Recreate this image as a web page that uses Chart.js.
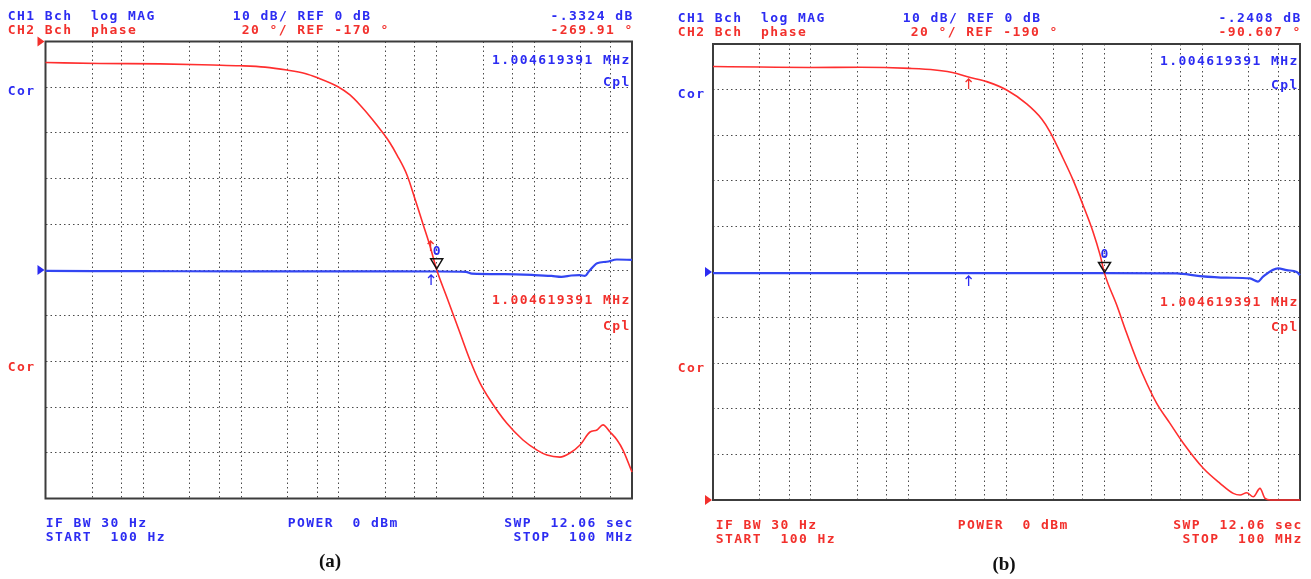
<!DOCTYPE html>
<html><head><meta charset="utf-8">
<script src="https://cdn.jsdelivr.net/npm/chart.js@4.4.1/dist/chart.umd.min.js"></script>
<style>
html,body{margin:0;padding:0;background:#fff;width:1311px;height:579px;overflow:hidden}
canvas{position:absolute;top:0}
#ca{left:0}
#cb{left:655px}
</style></head><body>
<canvas id="ca" width="655" height="579"></canvas>
<canvas id="cb" width="656" height="579"></canvas>
<script>
// ---------- data (frequency in Hz) ----------
const xGridTicks = [300, 600, 1e3, 3e3, 6e3, 1e4, 3e4, 6e4, 1e5, 3e5, 6e5, 1e6, 3e6, 6e6, 1e7, 3e7, 6e7];
const markerFreq = 1004619.391;

// Panel (a)
const freqA_phase = [100, 361, 1484, 5170, 9770, 17600, 29550, 45170, 59900, 98200, 130300, 165000, 218900, 277000, 334500, 394500, 499000, 602600, 727000, 858000, 1004619, 1270000, 1740000, 2200000, 2790000, 3530000, 5220000, 7670000, 10670000, 13500000, 18340000, 23200000, 29400000, 37200000, 43800000, 50500000, 59600000, 70300000, 80900000, 100000000];
const phaseA = [-179.2, -179.6, -179.8, -180.3, -180.6, -181.2, -182.5, -184.0, -185.8, -189.8, -193.4, -197.8, -203.9, -209.5, -214.4, -219.7, -228.4, -238.9, -249.9, -259.5, -269.9, -281.7, -297.6, -309.4, -319.5, -326.9, -337.0, -344.4, -348.8, -351.0, -351.9, -350.1, -346.6, -340.9, -340.0, -337.8, -340.9, -344.4, -348.8, -358.4];
const freqA_mag = [100, 1000, 10000, 100000, 1004619, 2000000, 2300000, 5000000, 10000000, 15000000, 19000000, 24000000, 29000000, 33000000, 36000000, 44000000, 55000000, 70000000, 100000000];
const magA = [-0.2, -0.25, -0.3, -0.3, -0.33, -0.4, -0.8, -0.9, -1.1, -1.3, -1.5, -1.2, -1.1, -1.3, -0.4, 1.5, 1.8, 2.3, 2.2];

// Panel (b)
const freqB_phase = [100, 302, 981, 3180, 10320, 18580, 30970, 39200, 62780, 100500, 160900, 229000, 278400, 378100, 478400, 605300, 765700, 904400, 1004619, 1338000, 1693000, 2143000, 2711000, 3430000, 4690000, 6420000, 10270000, 15220000, 20800000, 24400000, 28540000, 33300000, 39000000, 43900000, 50000000, 100000000];
const phaseB = [0.1, -0.1, -0.3, -0.2, -0.7, -1.4, -2.9, -4.3, -6.5, -10.2, -16.3, -22.9, -28.5, -40.1, -49.6, -60.6, -72.3, -82.5, -90.6, -104.5, -116.9, -128.6, -138.8, -147.6, -156.4, -165.1, -176.1, -182.7, -187.1, -187.8, -186.8, -188.6, -184.9, -189.3, -190, -190];
const freqB_mag = [100, 10000, 1000000, 5490000, 9500000, 17800000, 30800000, 37200000, 41900000, 59600000, 73100000, 92500000, 100000000];
const magB = [-0.24, -0.24, -0.24, -0.3, -0.9, -1.25, -1.4, -2.1, -1.0, 0.8, 0.4, 0.0, -0.7];

// ---------- styling ----------
const BLUE = '#2c2cf2', RED = '#f2302c';
const TRACE_BLUE = '#3346f2', TRACE_RED = '#ff2e2e';
const ADV = 9.25;

function mono(ctx, s, x, y, color, right) {
  ctx.save();
  ctx.font = 'bold 13px "DejaVu Sans Mono"';
  ctx.fillStyle = color; ctx.textAlign = 'center'; ctx.textBaseline = 'alphabetic';
  const x0 = right ? x - s.length * ADV : x;
  for (let i = 0; i < s.length; i++) if (s[i] !== ' ') ctx.fillText(s[i], x0 + i * ADV + ADV / 2, y + 4.8);
  ctx.restore();
}
function arrowUp(ctx, x, y, color) {
  ctx.save(); ctx.strokeStyle = color; ctx.lineWidth = 1.3;
  ctx.beginPath(); ctx.moveTo(x, y + 5); ctx.lineTo(x, y - 5);
  ctx.moveTo(x - 3, y - 2); ctx.lineTo(x, y - 5); ctx.lineTo(x + 3, y - 2); ctx.stroke(); ctx.restore();
}
function refTri(ctx, xr, y, color) {
  ctx.save(); ctx.fillStyle = color; ctx.beginPath();
  ctx.moveTo(xr - 8, y - 5); ctx.lineTo(xr - 8, y + 5); ctx.lineTo(xr - 1, y); ctx.closePath(); ctx.fill(); ctx.restore();
}

function pts(xs, ys) { return xs.map((x, i) => ({ x: x, y: ys[i] })); }

function makePanel(id, cfg) {
  const canvas = document.getElementById(id);
  const W = canvas.width, H = canvas.height;
  const deco = {
    id: 'deco' + id,
    beforeDatasetsDraw(chart) {
      const a = chart.chartArea, ctx = chart.ctx;
      ctx.save(); ctx.strokeStyle = '#3c3c3c'; ctx.lineWidth = 2;
      ctx.strokeRect(a.left, a.top, a.right - a.left, a.bottom - a.top);
      ctx.restore();
    },
    afterDraw(chart) {
      const ctx = chart.ctx, a = chart.chartArea;
      const xs = chart.scales.x, ym = chart.scales.yMag, yp = chart.scales.yPh;
      refTri(ctx, a.left, ym.getPixelForValue(0), BLUE);
      refTri(ctx, a.left, yp.getPixelForValue(cfg.phRef), RED);
      const px = xs.getPixelForValue(markerFreq), py = yp.getPixelForValue(cfg.markerPhase);
      ctx.save(); ctx.strokeStyle = '#111'; ctx.lineWidth = 1.5; ctx.beginPath();
      ctx.moveTo(px, py - 1); ctx.lineTo(px - 6, py - 11); ctx.lineTo(px + 6, py - 11); ctx.closePath(); ctx.stroke(); ctx.restore();
      mono(ctx, '0', px - ADV / 2, py - 20, BLUE, false);
      arrowUp(ctx, xs.getPixelForValue(cfg.redArrow[0]), cfg.redArrow[1], RED);
      arrowUp(ctx, xs.getPixelForValue(cfg.blueArrow[0]), cfg.blueArrow[1], BLUE);
      cfg.texts.forEach(t => mono(ctx, t[0], t[1] - cfg.off, t[2], t[3], t[4]));
      ctx.save(); ctx.font = 'bold 19px "Liberation Serif"'; ctx.fillStyle = '#111';
      ctx.textAlign = 'center'; ctx.textBaseline = 'middle';
      ctx.fillText(cfg.caption[0], cfg.caption[1] - cfg.off, cfg.caption[2]); ctx.restore();
    }
  };
  const gridOpts = { color: '#4a4a4a', lineWidth: 1, drawTicks: false };
  const borderOpts = { display: false, dash: [1.5, 3] };
  return new Chart(canvas, {
    type: 'line',
    data: {
      datasets: [
        { label: 'CH2 phase', data: pts(cfg.fPh, cfg.ph), yAxisID: 'yPh', borderColor: TRACE_RED, borderWidth: 1.6,
          pointRadius: 0, cubicInterpolationMode: 'monotone', clip: 3 },
        { label: 'CH1 log MAG', data: pts(cfg.fMag, cfg.mag), yAxisID: 'yMag', borderColor: TRACE_BLUE, borderWidth: 2.2,
          pointRadius: 0, cubicInterpolationMode: 'monotone', clip: 3 }
      ]
    },
    options: {
      responsive: false, animation: false, events: [],
      layout: { padding: { left: cfg.box[0] - cfg.off, top: cfg.box[1], right: W - (cfg.box[2] - cfg.off), bottom: H - cfg.box[3] } },
      plugins: { legend: { display: false }, tooltip: { enabled: false } },
      scales: {
        x: { type: 'logarithmic', min: 100, max: 1e8,
             afterBuildTicks: s => { s.ticks = xGridTicks.map(v => ({ value: v })); },
             ticks: { display: false }, grid: gridOpts, border: borderOpts },
        yMag: { type: 'linear', position: 'left', min: -50, max: 50,
                ticks: { display: false, stepSize: 10 }, grid: gridOpts, border: borderOpts },
        yPh: { type: 'linear', position: 'right', display: false, min: cfg.phMin, max: cfg.phMax }
      }
    },
    plugins: [deco]
  });
}

makePanel('ca', {
  off: 0, box: [45.5, 41.5, 632, 498.5],
  fPh: freqA_phase, ph: phaseA, fMag: freqA_mag, mag: magA,
  phMin: -370, phMax: -170, phRef: -170, markerPhase: -269.91,
  redArrow: [870000, 246], blueArrow: [880000, 280],
  caption: ['(a)', 330, 562],
  texts: [
    ['CH1 Bch  log MAG', 7, 15, BLUE], ['CH2 Bch  phase', 7, 29, RED],
    ['10 dB/ REF 0 dB', 232, 15, BLUE], ['20 °/ REF -170 °', 241, 29, RED],
    ['-.3324 dB', 633, 15, BLUE, true], ['-269.91 °', 633, 29, RED, true],
    ['Cor', 7, 90, BLUE], ['Cor', 7, 366, RED],
    ['1.004619391 MHz', 630, 59, BLUE, true], ['Cpl', 630, 81, BLUE, true],
    ['1.004619391 MHz', 630, 299, RED, true], ['Cpl', 630, 325, RED, true],
    ['IF BW 30 Hz', 45, 522, BLUE], ['START  100 Hz', 45, 536, BLUE],
    ['POWER  0 dBm', 287, 522, BLUE],
    ['SWP  12.06 sec', 633, 522, BLUE, true], ['STOP  100 MHz', 633, 536, BLUE, true]
  ]
});

makePanel('cb', {
  off: 655, box: [713, 44, 1300, 500],
  fPh: freqB_phase, ph: phaseB, fMag: freqB_mag, mag: magB,
  phMin: -190, phMax: 10, phRef: -190, markerPhase: -90.607,
  redArrow: [41000, 84], blueArrow: [41000, 281],
  caption: ['(b)', 1004, 565],
  texts: [
    ['CH1 Bch  log MAG', 677, 17, BLUE], ['CH2 Bch  phase', 677, 31, RED],
    ['10 dB/ REF 0 dB', 902, 17, BLUE], ['20 °/ REF -190 °', 910, 31, RED],
    ['-.2408 dB', 1301, 17, BLUE, true], ['-90.607 °', 1301, 31, RED, true],
    ['Cor', 677, 93, BLUE], ['Cor', 677, 367, RED],
    ['1.004619391 MHz', 1298, 60, BLUE, true], ['Cpl', 1298, 84, BLUE, true],
    ['1.004619391 MHz', 1298, 301, RED, true], ['Cpl', 1298, 326, RED, true],
    ['IF BW 30 Hz', 715, 524, RED], ['START  100 Hz', 715, 538, RED],
    ['POWER  0 dBm', 957, 524, RED],
    ['SWP  12.06 sec', 1302, 524, RED, true], ['STOP  100 MHz', 1302, 538, RED, true]
  ]
});
</script>
</body></html>
